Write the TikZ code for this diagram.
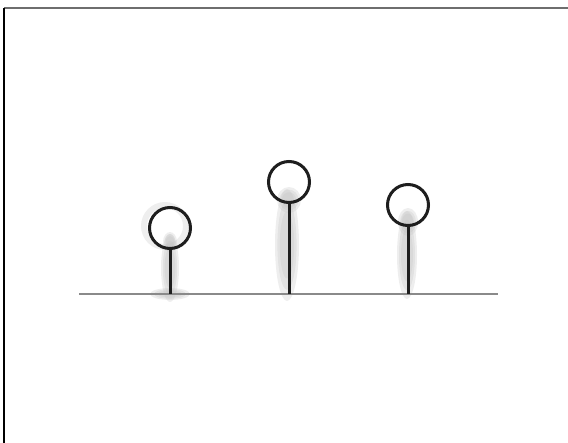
\documentclass[tikz,border=0pt]{standalone}
\usepackage{tikz}
\usetikzlibrary{calc}
\definecolor{pinInk}{HTML}{1E1E1E}
\definecolor{axisGray}{HTML}{8A8A8A}
\definecolor{blurGray}{HTML}{BDBDBD}
\definecolor{frameGray}{HTML}{6E6E6E}

\begin{document}
\begin{tikzpicture}[x=1pt, y=-1pt,
    pinhead/.style={circle, draw=pinInk, line width=3pt, minimum size=41pt, inner sep=0pt},
    pinstem/.style={pinInk, line width=3pt},
    ghost/.style={fill=blurGray, opacity=0.25}]
    \useasboundingbox (0,0) rectangle (568,443);

    % frame edges
    \draw[frameGray, line width=1.5pt] (4,8) -- (568,8);
    \draw[black, line width=1.5pt] (4,8) -- (4,443);

    % blurred shadows
    \foreach \k in {1,0.8,0.6} {
        \fill[ghost] (170,268) ellipse ({9*\k} and {34*\k});
        \fill[ghost] (170,294) ellipse ({20*\k} and {6*\k});
        \fill[ghost] (170,242) ellipse ({7*\k} and {10*\k});
        \fill[ghost] (287,245) ellipse ({12*\k} and {56*\k});
        \fill[ghost] (289,200) ellipse ({12*\k} and {13*\k});
        \fill[ghost] (407,255) ellipse ({10*\k} and {44*\k});
        \fill[ghost] (408,222) ellipse ({10*\k} and {14*\k});
    }
    \draw[blurGray, line width=6pt, opacity=0.25] (165,226) circle (21);

    \draw[axisGray, line width=1.2pt] (79,294) coordinate (axL) -- (498,294) coordinate (axR);

    \node[pinhead] (headA) at (170,228) {};
    \node[pinhead] (headB) at (289,182) {};
    \node[pinhead] (headC) at (408,205) {};

    \coordinate (footA) at (170,294);
    \coordinate (footB) at (289,294);
    \coordinate (footC) at (408,294);

    \foreach \p in {A,B,C}
        \draw[pinstem] (head\p.south) -- (foot\p);
\end{tikzpicture}
\end{document}
